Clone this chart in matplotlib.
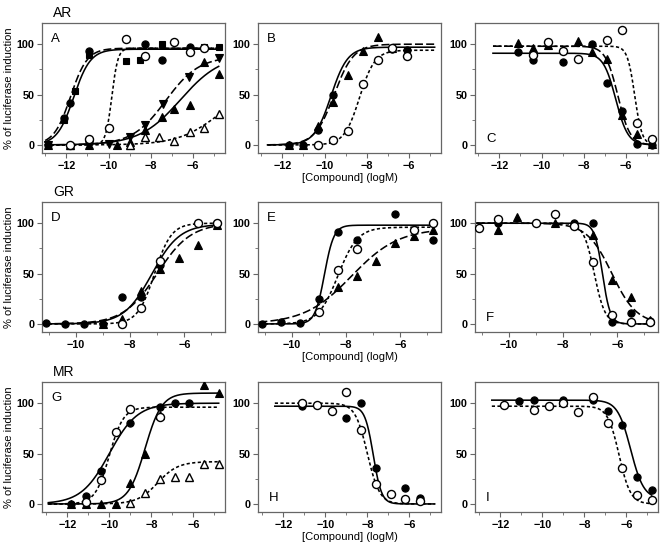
import numpy as np
import matplotlib
matplotlib.use('Agg')
import matplotlib.pyplot as plt
from matplotlib.ticker import MultipleLocator, FixedLocator

plt.rcParams['font.family'] = ['Liberation Sans', 'DejaVu Sans']

# ---------------- data (log M, % induction) ----------------
# fit params: [bottom, top, logEC50, hill]
A_circ_x = [-12.85, -12.1, -11.83, -10.95, -8.28, -7.49, -6.16]
A_circ_y = [0, 27, 42, 93, 100, 84, 97]
A_circ_fit = [0, 95, -11.65, 1.1]
A_sq_x = [-12.85, -12.1, -11.57, -10.95, -9.18, -8.5, -7.49, -5.47, -4.8]
A_sq_y = [0, 25, 54, 89, 83, 84, 100, 97, 97]
A_sq_fit = [0, 96, -11.8, 1.1]
A_ocirc_x = [-11.83, -10.95, -10.0, -9.18, -8.28, -6.91, -6.16, -5.47]
A_ocirc_y = [0, 6, 17, 105, 88, 102, 92, 96]
A_ocirc_fit = [0, 96, -9.85, 3.0]
A_vtri_x = [-12.85, -10.95, -10.0, -8.97, -8.28, -7.44, -6.2, -4.8]
A_vtri_y = [0, 0, 1, 8, 20, 41, 67, 86]
A_vtri_fit = [0, 88, -7.3, 0.55]
A_tri_x = [-12.85, -10.95, -9.6, -8.97, -8.28, -7.49, -6.91, -6.16, -5.47, -4.8]
A_tri_y = [0, 0, 0, 3, 15, 28, 36, 40, 82, 70]
A_tri_fit = [0, 90, -6.6, 0.45]
A_otri_x = [-11.83, -8.97, -8.28, -7.6, -6.91, -6.16, -5.47, -4.8]
A_otri_y = [0, 0, 8, 8, 4, 13, 17, 31]
A_otri_fit = [0, 60, -4.8, 0.45]

B_circ_x = [-11.7, -11.0, -10.3, -9.6, -6.8, -6.1]
B_circ_y = [0, 0, 15, 50, 95, 94]
B_circ_fit = [0, 97, -9.7, 1.1]
B_tri_x = [-11.7, -11.0, -10.3, -9.6, -8.9, -8.2, -7.5, -6.8]
B_tri_y = [0, 0, 19, 43, 69, 93, 107, 96]
B_tri_fit = [0, 100, -9.55, 0.95]
B_ocirc_x = [-10.3, -9.6, -8.9, -8.2, -7.5, -6.8, -6.1]
B_ocirc_y = [0, 5, 14, 60, 84, 96, 88]
B_ocirc_fit = [0, 94, -8.35, 1.2]

C_circ_x = [-11.1, -10.4, -9.0, -7.6, -6.9, -6.2, -5.5, -4.8]
C_circ_y = [92, 84, 82, 100, 61, 34, 1, 0]
C_circ_fit = [0, 91, -6.5, -1.5]
C_tri_x = [-11.1, -10.4, -9.7, -8.3, -7.6, -6.9, -6.2, -5.5, -4.8]
C_tri_y = [101, 96, 99, 103, 92, 85, 30, 11, 1]
C_tri_fit = [0, 98, -6.4, -1.5]
C_ocirc_x = [-10.4, -9.7, -9.0, -8.3, -6.9, -6.2, -5.5, -4.8]
C_ocirc_y = [89, 102, 93, 85, 104, 114, 22, 6]
C_ocirc_fit = [0, 98, -5.6, -2.5]

D_circ_x = [-11.1, -10.4, -9.7, -9.0, -8.3, -7.6, -6.9, -4.8]
D_circ_y = [1, 0, 0, 0, 27, 27, 58, 100]
D_circ_fit = [0, 99, -7.2, 0.85]
D_ocirc_x = [-8.3, -7.6, -6.9, -5.5, -4.8]
D_ocirc_y = [0, 16, 62, 100, 100]
D_ocirc_fit = [0, 100, -7.1, 1.4]
D_tri_x = [-9.0, -8.3, -7.6, -6.9, -6.2, -5.5, -4.8]
D_tri_y = [0, 5, 33, 55, 65, 78, 98]
D_tri_fit = [0, 100, -7.0, 0.7]

E_circ_x = [-11.1, -10.4, -9.7, -9.0, -8.3, -7.6, -6.2, -4.8]
E_circ_y = [0, 2, 1, 25, 91, 83, 109, 83]
E_circ_fit = [0, 98, -8.8, 2.5]
E_ocirc_x = [-9.0, -8.3, -7.6, -5.5, -4.8]
E_ocirc_y = [12, 54, 74, 93, 100]
E_ocirc_fit = [0, 96, -8.3, 1.2]
E_tri_x = [-8.3, -7.6, -6.9, -6.2, -5.5, -4.8]
E_tri_y = [37, 48, 62, 80, 87, 93]
E_tri_fit = [0, 95, -7.8, 0.5]

F_ocirc_x = [-11.1, -10.4, -9.0, -8.3, -7.6, -6.9, -6.2, -5.5, -4.8]
F_ocirc_y = [95, 104, 100, 109, 97, 61, 9, 2, 2]
F_ocirc_fit = [0, 100, -6.85, -2.2]
F_circ_x = [-10.4, -7.6, -6.9, -6.2, -5.5, -4.8]
F_circ_y = [100, 100, 100, 2, 11, 3]
F_circ_fit = [0, 100, -6.55, -3.0]
F_tri_x = [-10.4, -9.7, -8.3, -6.9, -6.2, -5.5, -4.8]
F_tri_y = [93, 106, 100, 88, 44, 27, 4]
F_tri_fit = [0, 100, -6.2, -0.95]

G_circ_x = [-11.8, -11.1, -10.4, -9.0, -7.6, -6.9, -6.2]
G_circ_y = [0, 8, 33, 80, 96, 100, 100]
G_circ_fit = [0, 100, -10.0, 0.65]
G_ocirc_x = [-11.1, -10.4, -9.7, -9.0, -7.6]
G_ocirc_y = [2, 24, 71, 94, 86]
G_ocirc_fit = [0, 96, -10.0, 1.3]
G_tri_x = [-11.8, -11.1, -10.4, -9.7, -9.0, -8.3, -7.6, -5.5, -4.8]
G_tri_y = [0, 0, 0, 0, 21, 50, 88, 118, 110]
G_tri_fit = [0, 110, -8.3, 1.1]
G_otri_x = [-9.0, -8.3, -7.6, -6.9, -6.2, -5.5, -4.8]
G_otri_y = [1, 11, 25, 27, 27, 40, 40]
G_otri_fit = [0, 42, -7.7, 0.9]

H_circ_x = [-11.1, -9.0, -8.3, -7.6, -6.2, -5.5]
H_circ_y = [97, 85, 100, 36, 16, 6]
H_circ_fit = [0, 97, -7.72, -2.2]
H_ocirc_x = [-11.1, -10.4, -9.7, -9.0, -8.3, -7.6, -6.9, -6.2, -5.5]
H_ocirc_y = [100, 98, 92, 111, 73, 20, 10, 5, 3]
H_ocirc_fit = [0, 100, -8.0, -1.5]

I_circ_x = [-11.1, -10.4, -9.0, -7.6, -6.9, -6.2, -5.5, -4.8]
I_circ_y = [102, 103, 103, 103, 92, 78, 27, 14]
I_circ_fit = [5, 103, -5.8, -1.4]
I_ocirc_x = [-11.8, -10.4, -9.7, -9.0, -8.3, -7.6, -6.9, -6.2, -5.5, -4.8]
I_ocirc_y = [98, 93, 97, 100, 91, 106, 80, 36, 9, 4]
I_ocirc_fit = [0, 97, -6.35, -1.6]

panel_letters = ['A', 'B', 'C', 'D', 'E', 'F', 'G', 'H', 'I']
row_titles = ['AR', 'GR', 'MR']
curve_ranges = {'A': (-13.0, -4.8), 'B': (-12.7, -4.8), 'C': (-12.3, -4.8),
                'D': (-11.2, -4.8), 'E': (-11.2, -4.8), 'F': (-11.2, -4.8),
                'G': (-12.9, -4.8), 'H': (-12.4, -4.8), 'I': (-12.4, -4.8)}
row_xlims = [(-13.15, -4.5), (-11.25, -4.5), (-13.2, -4.5)]
row_xticks = [[-12, -10, -8, -6], [-10, -8, -6], [-12, -10, -8, -6]]
ylim = (-8, 121)
yticks = [0, 50, 100]

# style keys: marker, filled, linestyle
SOLID = '-'
LDASH = (0, (5.0, 2.0))
SDOT = (0, (2.0, 1.5))

series = {
    'A': [(A_tri_x, A_tri_y, A_tri_fit, '^', True, SOLID),
          (A_vtri_x, A_vtri_y, A_vtri_fit, 'v', True, LDASH),
          (A_otri_x, A_otri_y, A_otri_fit, '^', False, SDOT),
          (A_ocirc_x, A_ocirc_y, A_ocirc_fit, 'o', False, SDOT),
          (A_sq_x, A_sq_y, A_sq_fit, 's', True, LDASH),
          (A_circ_x, A_circ_y, A_circ_fit, 'o', True, SOLID)],
    'B': [(B_ocirc_x, B_ocirc_y, B_ocirc_fit, 'o', False, SDOT),
          (B_tri_x, B_tri_y, B_tri_fit, '^', True, LDASH),
          (B_circ_x, B_circ_y, B_circ_fit, 'o', True, SOLID)],
    'C': [(C_ocirc_x, C_ocirc_y, C_ocirc_fit, 'o', False, SDOT),
          (C_tri_x, C_tri_y, C_tri_fit, '^', True, LDASH),
          (C_circ_x, C_circ_y, C_circ_fit, 'o', True, SOLID)],
    'D': [(D_tri_x, D_tri_y, D_tri_fit, '^', True, LDASH),
          (D_ocirc_x, D_ocirc_y, D_ocirc_fit, 'o', False, SDOT),
          (D_circ_x, D_circ_y, D_circ_fit, 'o', True, SOLID)],
    'E': [(E_tri_x, E_tri_y, E_tri_fit, '^', True, LDASH),
          (E_ocirc_x, E_ocirc_y, E_ocirc_fit, 'o', False, SDOT),
          (E_circ_x, E_circ_y, E_circ_fit, 'o', True, SOLID)],
    'F': [(F_tri_x, F_tri_y, F_tri_fit, '^', True, LDASH),
          (F_ocirc_x, F_ocirc_y, F_ocirc_fit, 'o', False, SDOT),
          (F_circ_x, F_circ_y, F_circ_fit, 'o', True, SOLID)],
    'G': [(G_otri_x, G_otri_y, G_otri_fit, '^', False, SDOT),
          (G_tri_x, G_tri_y, G_tri_fit, '^', True, SOLID),
          (G_ocirc_x, G_ocirc_y, G_ocirc_fit, 'o', False, SDOT),
          (G_circ_x, G_circ_y, G_circ_fit, 'o', True, SOLID)],
    'H': [(H_ocirc_x, H_ocirc_y, H_ocirc_fit, 'o', False, SDOT),
          (H_circ_x, H_circ_y, H_circ_fit, 'o', True, SOLID)],
    'I': [(I_ocirc_x, I_ocirc_y, I_ocirc_fit, 'o', False, SDOT),
          (I_circ_x, I_circ_y, I_circ_fit, 'o', True, SOLID)],
}
letter_pos = {'A': 'top', 'B': 'top', 'C': 'bottom', 'D': 'top', 'E': 'top',
              'F': 'bottom', 'G': 'top', 'H': 'bottom', 'I': 'bottom'}


def logistic(x, p):
    b, t, ec, h = p
    return b + (t - b) / (1.0 + 10.0 ** (h * (ec - x)))


W, H = 661, 544
fig = plt.figure(figsize=(W / 100, H / 100), dpi=100)

col_lefts = [42, 258, 475]
col_width = 183
row_tops = [23, 202, 382]
row_height = 130
spine_col = '#666666'

for r in range(3):
    for c in range(3):
        key = panel_letters[r * 3 + c]
        left = col_lefts[c] / W
        bottom = 1 - (row_tops[r] + row_height) / H
        ax = fig.add_axes([left, bottom, col_width / W, row_height / H])
        x0, x1 = curve_ranges[key]
        xs = np.linspace(x0, x1, 400)
        for (sx, sy, fit, mk, filled, ls) in series[key]:
            ax.plot(xs, logistic(xs, fit), color='black', lw=1.15, ls=ls, zorder=2)
        for (sx, sy, fit, mk, filled, ls) in series[key]:
            ms = 5.2 if mk in ('o',) else 5.6
            if mk == 's':
                ms = 4.8
            if filled:
                ax.plot(sx, sy, ls='none', marker=mk, ms=ms, mfc='black', mec='black',
                        mew=0.8, zorder=3)
            else:
                ax.plot(sx, sy, ls='none', marker=mk, ms=ms + 0.6, mfc='white', mec='black',
                        mew=1.0, zorder=4)
        ax.set_xlim(*row_xlims[r])
        ax.set_ylim(*ylim)
        ax.xaxis.set_major_locator(FixedLocator(row_xticks[r]))
        ax.xaxis.set_minor_locator(MultipleLocator(1))
        ax.yaxis.set_major_locator(FixedLocator(yticks))
        ax.yaxis.set_minor_locator(FixedLocator([25, 75]))
        ax.tick_params(which='major', direction='out', length=3.5, width=0.8,
                       color=spine_col, labelsize=7.8, pad=2)
        ax.tick_params(which='minor', direction='out', length=2, width=0.6, color=spine_col)
        for lab in ax.get_xticklabels() + ax.get_yticklabels():
            lab.set_fontweight('bold')
        for sp in ax.spines.values():
            sp.set_color(spine_col)
            sp.set_linewidth(0.9)
        if letter_pos[key] == 'top':
            ax.text(0.05, 0.88, key, transform=ax.transAxes, fontsize=9.5,
                    ha='left', va='center')
        else:
            ax.text(0.06, 0.11, key, transform=ax.transAxes, fontsize=9.5,
                    ha='left', va='center')
        if c == 0:
            ax.set_ylabel('% of luciferase induction', fontsize=8, labelpad=2)
            fig.text(53 / W, 1 - (row_tops[r] - 10) / H, row_titles[r], fontsize=10,
                     ha='left', va='center')
        if c == 1:
            ax.set_xlabel('[Compound] (logM)', fontsize=8, labelpad=2)

fig.savefig('out.png', dpi=100)
